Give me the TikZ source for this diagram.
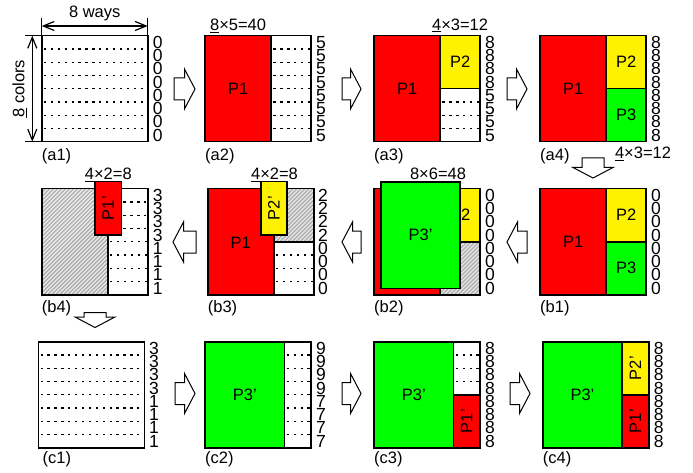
\documentclass[tikz,border=0pt]{standalone}
\usepackage{fontspec}
\setmainfont{Liberation Sans}
\usetikzlibrary{arrows.meta}

\tikzset{
  cell/.style={draw=black, line width=1.6pt},
  redbox/.style={cell, fill=red},
  yelbox/.style={cell, fill=yellow},
  grnbox/.style={cell, fill=green},
  dotline/.style={line width=1.3pt, dash pattern=on 2.3pt off 4.6pt, dash phase=-2.2pt},
  digit/.style={font=\fontsize{17.5}{17.5}\selectfont, inner sep=0pt},
  txt/.style={font=\fontsize{16.5}{18}\selectfont, inner sep=0pt},
  dimline/.style={line width=1.2pt},
  barb/.tip={Straight Barb[length=11pt,width=9pt]},
  blockarrow/.style={draw=black, line width=1pt, fill=white, line join=miter},
  hatchline/.style={gray!65, line width=1.2pt},
}

\newcommand\DigitCol[4]{%
  \foreach \d [count=\k] in {#4}
    \node[digit] (#1-\k) at (#2, {#3+(\k-0.5)*13.25}) {\d};}

\newcommand\DotRows[5]{%
  \foreach \k in {#4,...,#5}
    \draw[dotline] (#1, {#3+\k*13.25}) -- (#2, {#3+\k*13.25});}

\newcommand\Hatch[4]{%
  \begin{scope}
    \clip (#1,#2) rectangle (#3,#4);
    \fill[gray!18] (#1,#2) rectangle (#3,#4);
    \foreach \j in {-112,-108,...,112}
      \draw[hatchline] ({#1+\j},{#4+2}) -- ++(114,-114);
  \end{scope}
  \draw[cell] (#1,#2) rectangle (#3,#4);}

\newcommand\BlockArrow[4]{%
  \begin{scope}[shift={(#1,#2)}, rotate=#3]
    \draw[blockarrow] (0,0) -- (-10.5,20) -- (-10.5,11) -- (-#4,11)
      -- (-#4,-11) -- (-10.5,-11) -- (-10.5,-20) -- cycle;
  \end{scope}}

\begin{document}
\begin{tikzpicture}[x=1pt,y=-1pt]
\path[fill=white, use as bounding box] (0,0) rectangle (693,473);

% ---------------- (a1)
\DotRows{41.7}{147.7}{35.7}{1}{7}
\draw[cell] (41.7,35.7) rectangle (147.7,141.7);
\DigitCol{da1}{157.7}{35.7}{0,0,0,0,0,0,0,0}
\node[txt, anchor=base west] (la1) at (41.7,160.5) {(a1)};
\draw[dimline] (41.7,18) -- (41.7,35.7);
\draw[dimline] (147.7,18) -- (147.7,35.7);
\draw[dimline, barb-barb] (41.7,26) -- (147.7,26);
\node[txt, anchor=base] (ways) at (94.7,17.3) {8 ways};
\draw[dimline] (25,35.7) -- (41.7,35.7);
\draw[dimline] (25,141.7) -- (41.7,141.7);
\draw[dimline, barb-barb] (32.3,35.7) -- (32.3,141.7);
\node[txt, rotate=90] (colors) at (19.5,88.7) {\underline{8} colors};

% ---------------- (a2)
\draw[redbox] (205,35.7) rectangle (271.25,141.7);
\node[txt] (p1a2) at (238.1,88.7) {P1};
\DotRows{271.25}{311}{35.7}{1}{7}
\draw[cell] (205,35.7) rectangle (311,141.7);
\node[txt, anchor=base] (ta2) at (238.1,30.5) {\underline{8}×5=40};
\DigitCol{da2}{321}{35.7}{5,5,5,5,5,5,5,5}
\node[txt, anchor=base west] (la2) at (205,160.5) {(a2)};

% ---------------- (a3)
\draw[redbox] (374,35.7) rectangle (440.25,141.7);
\node[txt] (p1a3) at (407.1,88.7) {P1};
\draw[yelbox] (440.25,35.7) rectangle (480,88.7);
\node[txt] (p2a3) at (460.1,62.2) {P2};
\DotRows{440.25}{480}{35.7}{5}{7}
\draw[cell] (374,35.7) rectangle (480,141.7);
\node[txt, anchor=base] (ta3) at (460.1,30.3) {\underline{4}×3=12};
\DigitCol{da3}{490}{35.7}{8,8,8,8,5,5,5,5}
\node[txt, anchor=base west] (la3) at (374,160.5) {(a3)};

% ---------------- (a4)
\draw[redbox] (540,35.7) rectangle (606.25,141.7);
\node[txt] (p1a4) at (573.1,88.7) {P1};
\draw[yelbox] (606.25,35.7) rectangle (646,88.7);
\node[txt] (p2a4) at (626.1,62.2) {P2};
\draw[grnbox] (606.25,88.7) rectangle (646,141.7);
\node[txt] (p3a4) at (626.1,115.2) {P3};
\draw[cell] (540,35.7) rectangle (646,141.7);
\DigitCol{da4}{656}{35.7}{8,8,8,8,8,8,8,8}
\node[txt, anchor=base west] (la4) at (540,160.5) {(a4)};
\node[txt, anchor=base] (ta4) at (643,159) {\underline{4}×3=12};

% ---------------- (b1)
\draw[redbox] (540,188.7) rectangle (606.25,294.7);
\node[txt] (p1b1) at (573.1,241.7) {P1};
\draw[yelbox] (606.25,188.7) rectangle (646,241.7);
\node[txt] (p2b1) at (626.1,215.2) {P2};
\draw[grnbox] (606.25,241.7) rectangle (646,294.7);
\node[txt] (p3b1) at (626.1,268.2) {P3};
\draw[cell] (540,188.7) rectangle (646,294.7);
\DigitCol{db1}{656}{188.7}{0,0,0,0,0,0,0,0}
\node[txt, anchor=base west] (lb1) at (540,312) {(b1)};

% ---------------- (b2)
\draw[redbox] (374,188.7) rectangle (440.25,294.7);
\draw[yelbox] (440.25,188.7) rectangle (480,241.7);
\node[txt] (p2b2) at (460.1,215.2) {P2};
\Hatch{440.25}{241.7}{480}{294.7}
\draw[cell] (374,188.7) rectangle (480,294.7);
\node[txt, anchor=base] (tb2) at (438,179.5) {\underline{8}×6=48};
\draw[grnbox] (380.7,182.3) rectangle (460.2,288.3);
\node[txt] (p3b2) at (420.5,235.3) {P3’};
\DigitCol{db2}{490}{188.7}{0,0,0,0,0,0,0,0}
\node[txt, anchor=base west] (lb2) at (374,312) {(b2)};

% ---------------- (b3)
\draw[redbox] (207.7,188.7) rectangle (273.95,294.7);
\node[txt] (p1b3) at (240.8,242.5) {P1};
\Hatch{273.95}{188.7}{313.7}{241.7}
\DotRows{273.95}{313.7}{188.7}{5}{7}
\draw[cell] (207.7,188.7) rectangle (313.7,294.7);
\node[txt, anchor=base] (tb3) at (274.5,180) {\underline{4}×2=8};
\draw[yelbox] (260.7,181.7) rectangle (287.2,234.7);
\node[txt, rotate=90] (p2b3) at (273.95,208.2) {P2’};
\DigitCol{db3}{323}{188.7}{2,2,2,2,0,0,0,0}
\node[txt, anchor=base west] (lb3) at (207.7,312) {(b3)};

% ---------------- (b4)
\Hatch{41.7}{188.7}{107.95}{294.7}
\DotRows{121.2}{147.7}{188.7}{1}{3}
\DotRows{107.95}{147.7}{188.7}{4}{7}
\draw[cell] (41.7,188.7) rectangle (147.7,294.7);
\node[txt, anchor=base] (tb4) at (108.3,180) {\underline{4}×2=8};
\draw[redbox] (95,181.7) rectangle (121.5,234.7);
\node[txt, rotate=90] (p1b4) at (108.25,208.2) {P1’};
\DigitCol{db4}{157.7}{188.7}{3,3,3,3,1,1,1,1}
\node[txt, anchor=base west] (lb4) at (41.7,312) {(b4)};

% ---------------- (c1)
\DotRows{38.3}{144.3}{341.7}{1}{7}
\draw[cell] (38.3,341.7) rectangle (144.3,447.7);
\DigitCol{dc1}{154}{341.7}{3,3,3,3,1,1,1,1}
\node[txt, anchor=base west] (lc1) at (42.5,463.5) {(c1)};

% ---------------- (c2)
\draw[grnbox] (205,341.7) rectangle (284.5,447.7);
\node[txt] (p3c2) at (244.75,394.7) {P3’};
\DotRows{284.5}{311}{341.7}{1}{7}
\draw[cell] (205,341.7) rectangle (311,447.7);
\DigitCol{dc2}{321}{341.7}{9,9,9,9,7,7,7,7}
\node[txt, anchor=base west] (lc2) at (205,463.5) {(c2)};

% ---------------- (c3)
\draw[grnbox] (374,341.7) rectangle (453.5,447.7);
\node[txt] (p3c3) at (413.75,394.7) {P3’};
\DotRows{453.5}{480}{341.7}{1}{3}
\draw[redbox] (453.5,394.7) rectangle (480,447.7);
\node[txt, rotate=90] (p1c3) at (466.75,421.2) {P1’};
\draw[cell] (374,341.7) rectangle (480,447.7);
\DigitCol{dc3}{490}{341.7}{8,8,8,8,8,8,8,8}
\node[txt, anchor=base west] (lc3) at (374,463.5) {(c3)};

% ---------------- (c4)
\draw[grnbox] (542.7,341.7) rectangle (622.2,447.7);
\node[txt] (p3c4) at (582.45,394.7) {P3’};
\draw[yelbox] (622.2,341.7) rectangle (648.7,394.7);
\node[txt, rotate=90] (p2c4) at (635.45,368.2) {P2’};
\draw[redbox] (622.2,394.7) rectangle (648.7,447.7);
\node[txt, rotate=90] (p1c4) at (635.45,421.2) {P1’};
\draw[cell] (542.7,341.7) rectangle (648.7,447.7);
\DigitCol{dc4}{658.7}{341.7}{8,8,8,8,8,8,8,8}
\node[txt, anchor=base west] (lc4) at (542.7,463.5) {(c4)};

% ---------------- block arrows
\BlockArrow{195}{89}{0}{21}
\BlockArrow{361}{89}{0}{19}
\BlockArrow{527}{89}{0}{20}
\BlockArrow{593}{178}{-90}{20}
\BlockArrow{507}{242}{180}{20}
\BlockArrow{342}{242}{180}{19}
\BlockArrow{173}{242}{180}{23}
\BlockArrow{95}{327.5}{-90}{15}
\BlockArrow{195}{393.5}{0}{20}
\BlockArrow{361}{393.5}{0}{19}
\BlockArrow{530}{393.5}{0}{20}
\end{tikzpicture}
\end{document}
